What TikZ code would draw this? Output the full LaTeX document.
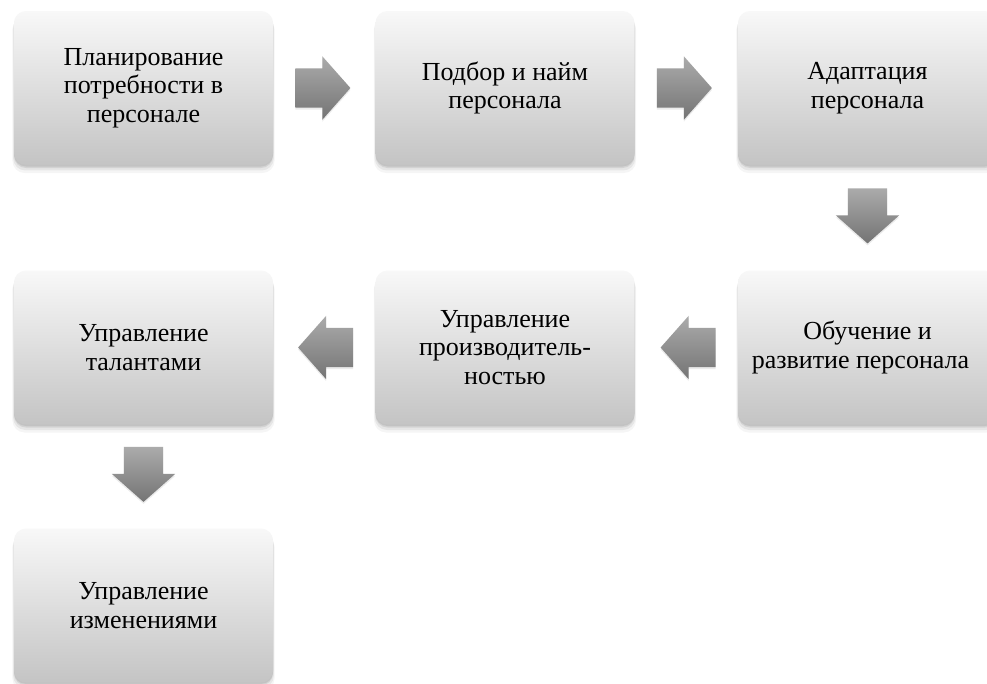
\documentclass[tikz,border=0pt]{standalone}
\usepackage{fontspec}
\setmainfont{Liberation Serif}
\usetikzlibrary{shapes.arrows,shadows,calc}
\definecolor{boxtop}{HTML}{F8F8F8}
\definecolor{boxbot}{HTML}{C4C4C4}
\definecolor{arrtop}{HTML}{ABABAB}
\definecolor{arrbot}{HTML}{747474}
\tikzset{
  box/.style={rectangle, rounded corners=12pt, minimum width=259pt, minimum height=154pt,
    inner sep=0pt, align=center, top color=boxtop, bottom color=boxbot, draw=none,
    font=\fontsize{26}{28.5}\selectfont,
    general shadow={fill=black, opacity=0.04, shadow yshift=-7pt, shadow scale=1.012},
    general shadow={fill=black, opacity=0.06, shadow yshift=-5pt, shadow scale=1.006},
    general shadow={fill=black, opacity=0.08, shadow yshift=-3pt},
    general shadow={fill=black, opacity=0.08, shadow yshift=-1.5pt}},
  barrow/.style={single arrow, draw=none, inner xsep=0pt, inner ysep=19.5pt, minimum width=63pt,
    minimum height=55pt, single arrow head extend=12pt, single arrow tip angle=97,
    single arrow head indent=0pt, top color=arrtop, bottom color=arrbot, anchor=tail,
    general shadow={fill=black, opacity=0.08, shadow yshift=-2pt}},
  vbarrow/.style={barrow, inner xsep=19.5pt, inner ysep=0pt, shape border rotate=270},
}
\begin{document}
\begin{tikzpicture}[x=1pt,y=-1pt]
\useasboundingbox (0,0) rectangle (987,683);
\fill[white] (0,0) rectangle (987,683);
\node[box] (b1) at (143.5,88) {Планирование\\потребности в\\персонале};
\node[box] (b2) at (505,88) {Подбор и найм\\персонала};
\node[box] (b3) at (867.5,88) {Адаптация\\персонала};
\node[box] (b6) at (867.5,347.5) {Обучение и\\развитие персонала\hspace*{14pt}};
\node[box] (b5) at (505,347.5) {Управление\\производитель-\\ностью};
\node[box] (b4) at (143.5,347.5) {Управление\\талантами};
\node[box] (b7) at (143.5,605.5) {Управление\\изменениями};
\node[barrow, shape border rotate=0] (a1) at ($(b1.east)+(22,0)$) {};
\node[barrow, shape border rotate=0] (a2) at ($(b2.east)+(22,0)$) {};
\node[vbarrow] (a3) at ($(b3.south)+(0,23)$) {};
\node[barrow, shape border rotate=180] (a4) at ($(b6.west)+(-22,0)$) {};
\node[barrow, shape border rotate=180] (a5) at ($(b5.west)+(-22,0)$) {};
\node[vbarrow] (a6) at ($(b4.south)+(0,22)$) {};
\end{tikzpicture}
\end{document}
